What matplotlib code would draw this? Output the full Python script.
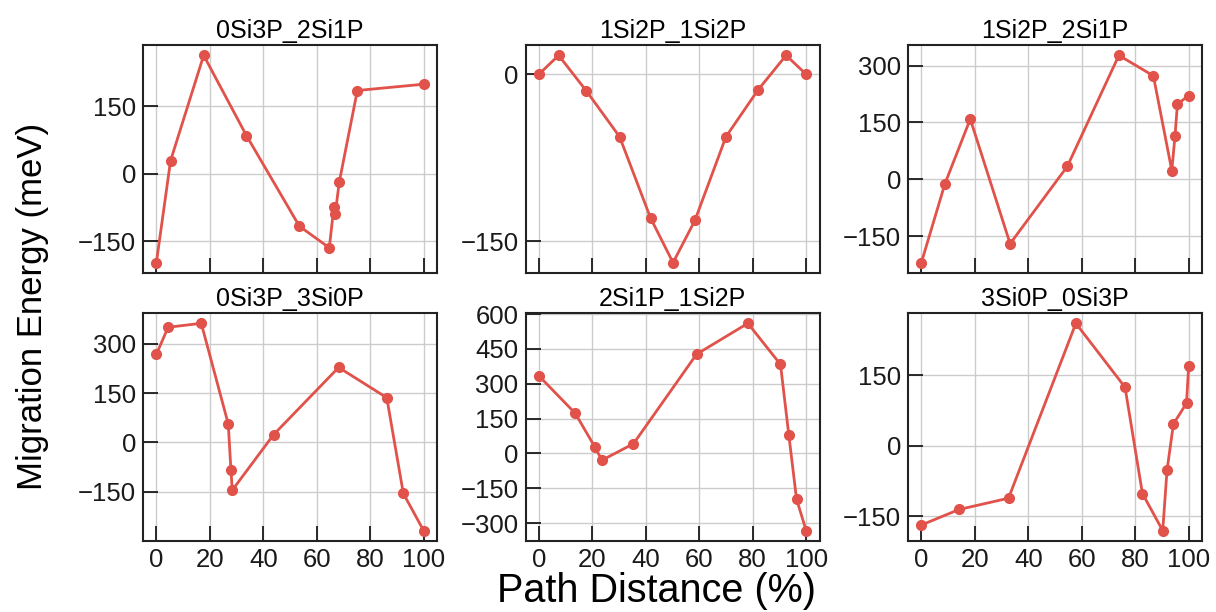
import matplotlib
matplotlib.use("Agg")
import matplotlib.pyplot as plt
from matplotlib.ticker import MultipleLocator

plt.rcParams['font.family'] = ['Liberation Sans', 'DejaVu Sans']

titles = ["0Si3P_2Si1P", "1Si2P_1Si2P", "1Si2P_2Si1P",
          "0Si3P_3Si0P", "2Si1P_1Si2P", "3Si0P_0Si3P"]

x_0Si3P_2Si1P = [0, 5.3, 17.7, 33.7, 53.5, 64.7, 66.4, 66.9, 68.4, 75.2, 100]
y_0Si3P_2Si1P = [-197, 29, 263, 85, -116, -164, -74, -90, -19, 185, 199]

x_1Si2P_1Si2P = [0, 7.4, 17.8, 30.2, 41.8, 50.2, 58.4, 70.0, 82.0, 92.5, 100]
y_1Si2P_1Si2P = [0, 17, -15, -56, -129, -169, -131, -56, -14, 17, 0]

x_1Si2P_2Si1P = [0, 8.8, 18.3, 33.2, 54.6, 73.9, 86.8, 93.7, 94.9, 95.8, 100]
y_1Si2P_2Si1P = [-220, -12, 159, -170, 34, 327, 273, 23, 115, 198, 221]

x_0Si3P_3Si0P = [0, 4.4, 16.8, 26.9, 27.9, 28.4, 43.9, 68.2, 86.2, 92.4, 100]
y_0Si3P_3Si0P = [268, 350, 362, 56, -84, -145, 24, 228, 136, -155, -268]

x_2Si1P_1Si2P = [0, 13.6, 20.9, 23.6, 35.4, 59.0, 78.2, 90.4, 93.5, 96.4, 100]
y_2Si1P_1Si2P = [334, 173, 29, -29, 42, 427, 560, 383, 81, -196, -332]

x_3Si0P_0Si3P = [0, 14.1, 32.6, 57.8, 76.2, 82.7, 90.3, 91.9, 94.3, 99.2, 100]
y_3Si0P_0Si3P = [-169, -136, -112, 260, 124, -102, -181, -53, 46, 90, 169]

xs = [x_0Si3P_2Si1P, x_1Si2P_1Si2P, x_1Si2P_2Si1P,
      x_0Si3P_3Si0P, x_2Si1P_1Si2P, x_3Si0P_0Si3P]
ys = [y_0Si3P_2Si1P, y_1Si2P_1Si2P, y_1Si2P_2Si1P,
      y_0Si3P_3Si0P, y_2Si1P_1Si2P, y_3Si0P_0Si3P]

line_color = '#E0524A'

fig, axes = plt.subplots(2, 3, figsize=(12.16, 6.12), dpi=100, sharex=True)
fig.subplots_adjust(left=0.1176, right=0.9885, top=0.9265, bottom=0.116,
                    wspace=0.301, hspace=0.175)

for ax, t, x, y in zip(axes.flat, titles, xs, ys):
    ax.plot(x, y, '-o', color=line_color, lw=2.0, ms=7, zorder=3)
    ax.set_title(t, fontsize=18, pad=5)
    ax.grid(True, color='#cccccc', lw=1.0, zorder=0)
    ax.set_axisbelow(True)
    ax.yaxis.set_major_locator(MultipleLocator(150))
    ax.xaxis.set_major_locator(MultipleLocator(20))
    ax.tick_params(direction='in', length=11, width=1.3, labelsize=18.5,
                   top=False, right=False, pad=5, colors='#1a1a1a')
    for s in ax.spines.values():
        s.set_linewidth(1.5)
        s.set_color('#222222')

fig.text(0.027, 0.5, 'Migration Energy (meV)', rotation=90, fontsize=25,
         ha='center', va='center')
fig.text(0.54, 0.035, 'Path Distance (%)', fontsize=28.5, ha='center', va='center')

fig.savefig('out.png', dpi=100)
